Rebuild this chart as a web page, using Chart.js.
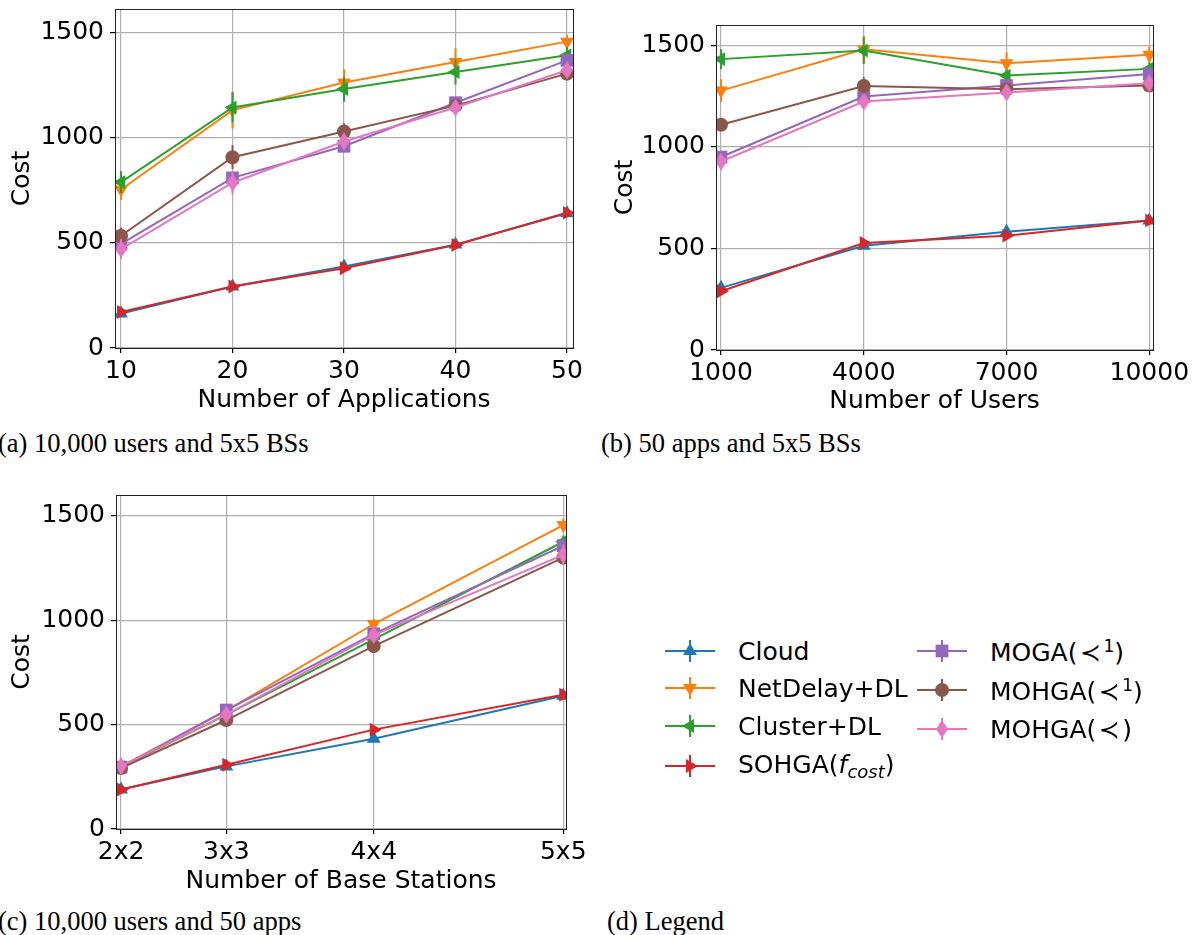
<!DOCTYPE html>
<html lang="en">
<head>
<meta charset="UTF-8" />
<title>Cost vs applications, users and base stations</title>
<script src="https://cdn.jsdelivr.net/npm/chart.js"></script>
<style>
  body { margin: 0; width: 1197px; height: 935px; position: relative; overflow: hidden; background: #fff; font-family: "DejaVu Sans", sans-serif; }
  canvas.plot { position: absolute; }
  .cap { position: absolute; font-family: "Liberation Serif", serif; font-size: 26.5px; color: #000; white-space: nowrap; line-height: 1; }
  .leg { position: absolute; display: flex; align-items: center; font-size: 25px; color: #000; white-space: nowrap; height: 30px; }
  .leg canvas { margin-right: 23px; }
  .leg sup { font-size: 17px; vertical-align: 9px; }
  .leg sub { font-size: 18px; vertical-align: -5px; font-style: oblique; }
  .leg i { font-style: oblique; }
</style>
</head>
<body>
<canvas id="chartA" class="plot" width="600" height="420" style="left:0;top:0"></canvas>
<canvas id="chartB" class="plot" width="597" height="422" style="left:600px;top:0"></canvas>
<canvas id="chartC" class="plot" width="600" height="415" style="left:0;top:486px"></canvas>

<div class="cap" style="left:-2px;top:430px">(a) 10,000 users and 5x5 BSs</div>
<div class="cap" style="left:601px;top:430px">(b) 50 apps and 5x5 BSs</div>
<div class="cap" style="left:-2px;top:908px">(c) 10,000 users and 50 apps</div>
<div class="cap" style="left:607px;top:908px">(d) Legend</div>

<div id="legend"></div>

<script>
// x values / tick labels
const appsX = [10, 20, 30, 40, 50];
const usersX = [1000, 4000, 7000, 10000];
const bsX = [4, 9, 16, 25];
const bsLabels = ["2x2", "3x3", "4x4", "5x5"];
const costTicks = [0, 500, 1000, 1500];

// (a) 10,000 users and 5x5 BSs
const cloudA    = [164, 292, 387, 491, 640];
const netDelayA = [753, 1130, 1261, 1358, 1455];
const clusterA  = [788, 1142, 1230, 1311, 1390];
const sohgaA    = [171, 292, 379, 489, 642];
const mogaA     = [494, 808, 958, 1165, 1366];
const mohga1A   = [533, 906, 1028, 1151, 1303];
const mohgaA    = [470, 785, 981, 1142, 1319];
const errA = [
  [10, 10, 10, 10, 10],
  [50, 87, 63, 66, 32],
  [52, 72, 60, 60, 40],
  [10, 10, 10, 10, 10],
  [20, 20, 20, 20, 20],
  [39, 57, 39, 30, 30],
  [47, 55, 30, 30, 30]
];

// (b) 50 apps and 5x5 BSs
const cloudB    = [306, 513, 582, 638];
const netDelayB = [1277, 1481, 1412, 1453];
const clusterB  = [1432, 1474, 1351, 1384];
const sohgaB    = [289, 527, 563, 638];
const mogaB     = [950, 1248, 1302, 1359];
const mohga1B   = [1109, 1300, 1284, 1302];
const mohgaB    = [928, 1223, 1268, 1313];
const errB = [
  [10, 10, 10, 10],
  [56, 66, 54, 41],
  [49, 66, 30, 30],
  [10, 10, 10, 10],
  [20, 20, 20, 20],
  [30, 43, 30, 30],
  [30, 30, 30, 30]
];

// (c) 10,000 users and 50 apps
const cloudC    = [189, 300, 432, 638];
const netDelayC = [300, 567, 982, 1456];
const clusterC  = [296, 548, 908, 1376];
const sohgaC    = [189, 308, 476, 643];
const mogaC     = [296, 570, 935, 1357];
const mohga1C   = [292, 522, 876, 1300];
const mohgaC    = [301, 548, 929, 1313];
const errC = [
  [10, 10, 10, 10],
  [20, 20, 25, 30],
  [20, 20, 25, 30],
  [10, 10, 10, 10],
  [20, 20, 25, 30],
  [20, 20, 25, 30],
  [20, 20, 30, 50]
];

const colors = ["#1f77b4", "#ff7f0e", "#2ca02c", "#d62728", "#9467bd", "#8c564b", "#e377c2"];

function makeDiamond(color) {
  const c = document.createElement("canvas");
  c.width = 12; c.height = 18;
  const g = c.getContext("2d");
  g.fillStyle = color;
  g.beginPath();
  g.moveTo(6, 0); g.lineTo(12, 9); g.lineTo(6, 18); g.lineTo(0, 9);
  g.closePath();
  g.fill();
  return c;
}

const markers = [
  { style: "triangle", rot: 0, r: 8 },
  { style: "triangle", rot: 180, r: 8 },
  { style: "triangle", rot: 270, r: 8 },
  { style: "triangle", rot: 90, r: 8 },
  { style: "rect", rot: 0, r: 9 },
  { style: "circle", rot: 0, r: 7 },
  { style: makeDiamond(colors[6]), rot: 0, r: 7 }
];

Chart.defaults.font.family = "DejaVu Sans";
Chart.defaults.font.size = 25;
Chart.defaults.color = "#000";

// vertical error bars, drawn right after each series so layering follows the series order
const errorBars = {
  id: "errorBars",
  afterDatasetDraw(chart, args) {
    const ds = chart.data.datasets[args.index];
    if (!ds.errors) return;
    const yScale = chart.scales.y;
    const ctx = chart.ctx;
    ctx.save();
    ctx.strokeStyle = ds.borderColor;
    ctx.lineWidth = 2;
    args.meta.data.forEach((pt, i) => {
      const v = ds.data[i].y, e = ds.errors[i];
      ctx.beginPath();
      ctx.moveTo(pt.x, yScale.getPixelForValue(v + e));
      ctx.lineTo(pt.x, yScale.getPixelForValue(v - e));
      ctx.stroke();
    });
    ctx.restore();
  }
};

// black box round the plot area
const frame = {
  id: "frame",
  afterDraw(chart) {
    const a = chart.chartArea, ctx = chart.ctx;
    ctx.save();
    ctx.strokeStyle = "#222";
    ctx.lineWidth = 1;
    ctx.strokeRect(Math.round(a.left) + 0.5, Math.round(a.top) + 0.5,
      Math.round(a.right - a.left), Math.round(a.bottom - a.top));
    ctx.restore();
  }
};

function buildChart(cfg) {
  const datasets = cfg.series.map((vals, i) => ({
    label: "s" + i,
    data: vals.map((v, j) => ({ x: cfg.xs[j], y: v })),
    errors: cfg.errs[i],
    borderColor: colors[i],
    backgroundColor: colors[i],
    borderWidth: 2,
    pointStyle: markers[i].style,
    pointRotation: markers[i].rot,
    pointRadius: markers[i].r,
    pointBorderWidth: 0,
    tension: 0,
    order: 10 - i
  }));

  return new Chart(document.getElementById(cfg.id), {
    type: "line",
    data: { datasets },
    plugins: [errorBars, frame],
    options: {
      responsive: false,
      animation: false,
      events: [],
      layout: { padding: { top: cfg.padTop, right: cfg.padRight, left: 0, bottom: 0 } },
      plugins: { legend: { display: false }, tooltip: { enabled: false } },
      scales: {
        x: {
          type: "linear",
          min: cfg.xMin,
          max: cfg.xMax,
          afterBuildTicks: (s) => { s.ticks = cfg.xs.map((v) => ({ value: v })); },
          afterFit: (s) => { s.height = 72; s.paddingLeft = 0; s.paddingRight = 0; },
          ticks: { padding: 3, maxRotation: 0, autoSkip: false, callback: cfg.xFmt },
          grid: { color: "#b0b0b0", lineWidth: 1.2, tickColor: "#000", tickLength: 5 },
          border: { display: false },
          title: { display: true, text: cfg.xTitle, padding: { top: 0, bottom: cfg.xTitlePad } }
        },
        y: {
          min: 0,
          max: cfg.yMax,
          afterBuildTicks: (s) => { s.ticks = costTicks.map((v) => ({ value: v })); },
          afterFit: (s) => { s.width = cfg.yWidth; s.paddingTop = 0; s.paddingBottom = 0; },
          ticks: { padding: 6, callback: (v) => String(v) },
          grid: { color: "#b0b0b0", lineWidth: 1.2, tickColor: "#000", tickLength: 5 },
          border: { display: false },
          title: { display: true, text: "Cost", padding: { top: cfg.yTitlePad, bottom: 0 } }
        }
      }
    }
  });
}

buildChart({
  id: "chartA", xs: appsX, xMin: 9.46, xMax: 50.54, yMax: 1610,
  series: [cloudA, netDelayA, clusterA, sohgaA, mogaA, mohga1A, mohgaA], errs: errA,
  xTitle: "Number of Applications", xFmt: (v) => String(v),
  yWidth: 115, yTitlePad: 7, padTop: 7, padRight: 27, xTitlePad: 5
});

buildChart({
  id: "chartB", xs: usersX, xMin: 895, xMax: 10078, yMax: 1600,
  series: [cloudB, netDelayB, clusterB, sohgaB, mogaB, mohga1B, mohgaB], errs: errB,
  xTitle: "Number of Users", xFmt: (v) => String(v),
  yWidth: 116, yTitlePad: 10, padTop: 25, padRight: 44, xTitlePad: 6
});

buildChart({
  id: "chartC", xs: bsX, xMin: 3.76, xMax: 25.13, yMax: 1600,
  series: [cloudC, netDelayC, clusterC, sohgaC, mogaC, mohga1C, mohgaC], errs: errC,
  xTitle: "Number of Base Stations", xFmt: (v) => bsLabels[bsX.indexOf(v)],
  yWidth: 116, yTitlePad: 7, padTop: 7, padRight: 34, xTitlePad: 5
});

// legend panel (d)
const legendLabels = [
  "Cloud", "NetDelay+DL", "Cluster+DL", "SOHGA(<i>f</i><sub>cost</sub>)",
  "MOGA(&#8202;&#8826;&#8202;<sup>1</sup>)", "MOHGA(&#8202;&#8826;&#8202;<sup>1</sup>)", "MOHGA(&#8202;&#8826;&#8202;)"
];
const legendPos = [
  [665, 636], [665, 673], [665, 711], [665, 751],
  [917, 636], [917, 675], [917, 714]
];
const legendBox = document.getElementById("legend");
legendLabels.forEach((txt, i) => {
  const item = document.createElement("div");
  item.className = "leg";
  item.style.left = legendPos[i][0] + "px";
  item.style.top = legendPos[i][1] + "px";
  const c = document.createElement("canvas");
  c.width = 50; c.height = 30;
  const g = c.getContext("2d");
  g.strokeStyle = colors[i];
  g.fillStyle = colors[i];
  g.lineWidth = 2;
  g.beginPath(); g.moveTo(0, 15); g.lineTo(50, 15); g.stroke();
  g.beginPath(); g.moveTo(25, 4); g.lineTo(25, 26); g.stroke();
  Chart.helpers.drawPoint(g, { pointStyle: markers[i].style, rotation: markers[i].rot, radius: markers[i].r, borderWidth: 0 }, 25, 15);
  item.appendChild(c);
  const span = document.createElement("span");
  span.innerHTML = txt;
  item.appendChild(span);
  legendBox.appendChild(item);
});
</script>
</body>
</html>
